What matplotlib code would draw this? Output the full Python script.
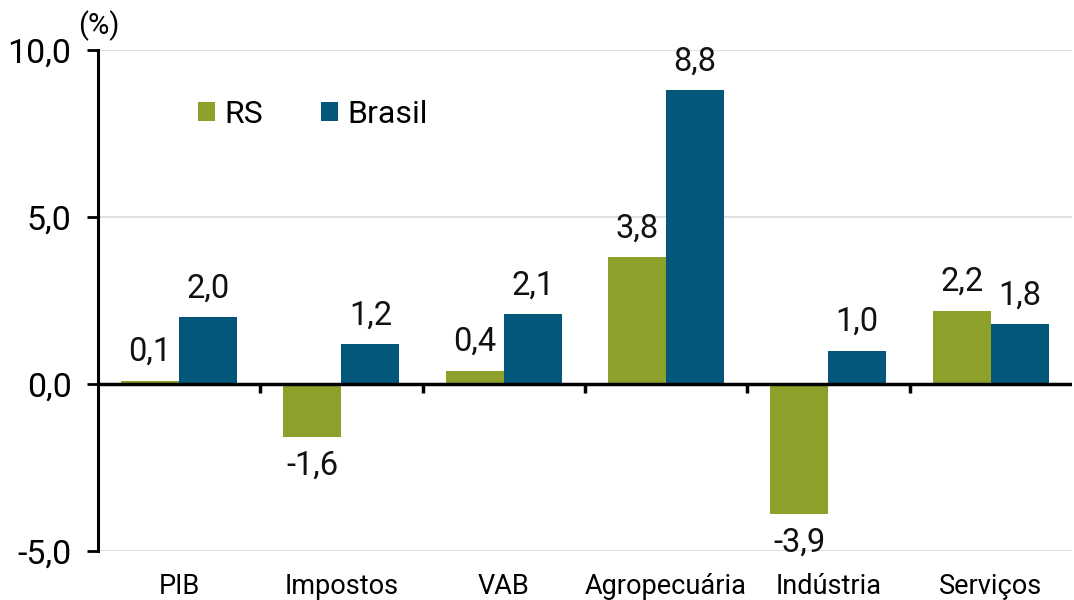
import matplotlib
matplotlib.use("Agg")
import matplotlib.pyplot as plt
import numpy as np

plt.rcParams['font.family'] = ['Roboto', 'DejaVu Sans']

categories = ["PIB", "Impostos", "VAB", "Agropecuária", "Indústria", "Serviços"]
rs_values = [0.1, -1.6, 0.4, 3.8, -3.9, 2.2]
brasil_values = [2.0, 1.2, 2.1, 8.8, 1.0, 1.8]
series_names = ["RS", "Brasil"]
yticks = [-5.0, 0.0, 5.0, 10.0]

c_rs = "#8DA12A"
c_br = "#02577A"

fig = plt.figure(figsize=(10.74, 6.0), dpi=100)
ax = fig.add_axes([0.0912, 0.0817, 0.9068, 0.835])

x = np.arange(len(categories))
w = 0.357
b1 = ax.bar(x - w/2, rs_values, w, color=c_rs, label=series_names[0], zorder=3)
b2 = ax.bar(x + w/2, brasil_values, w, color=c_br, label=series_names[1], zorder=3)

def fmt(v):
    return f"{v:.1f}".replace(".", ",")

for bars, vals in ((b1, rs_values), (b2, brasil_values)):
    for rect, v in zip(bars, vals):
        cx = rect.get_x() + rect.get_width()/2
        if v >= 0:
            ax.annotate(fmt(v), (cx, v), xytext=(0, 9), textcoords="offset points",
                        ha="center", va="bottom", fontsize=23.5, color="#111111")
        else:
            ax.annotate(fmt(v), (cx, v), xytext=(0, -9), textcoords="offset points",
                        ha="center", va="top", fontsize=23.5, color="#111111")

ax.set_xlim(-0.5, len(categories) - 0.5)
ax.set_ylim(-5, 10)
ax.set_yticks(yticks)
ax.set_yticklabels([fmt(t) for t in yticks], fontsize=24.5)
ax.set_xticks(x)
ax.set_xticklabels(categories, fontsize=19.5)
ax.tick_params(axis='x', length=0, pad=16)
ax.tick_params(axis='y', length=8, width=2, direction='out', pad=11)

for yv in [5, 10, -5]:
    ax.axhline(yv, color="#d9d9d9", lw=1.2, zorder=1)
ax.axhline(0, color="black", lw=2.5, zorder=4)
ax.vlines(np.arange(len(categories) - 1) + 0.5, -0.27, 0, color="black", lw=2.5, zorder=4)

for s in ["top", "right", "bottom"]:
    ax.spines[s].set_visible(False)
ax.spines["left"].set_linewidth(2.2)

leg = ax.legend(loc="upper left", bbox_to_anchor=(0.1023, 0.901), ncol=2, frameon=False,
                fontsize=23, handlelength=0.53, handleheight=0.53, handletextpad=0.31,
                columnspacing=1.8, borderaxespad=0, borderpad=0)

fig.text(0.0917, 0.958, "(%)", fontsize=21, ha="center", va="center")

fig.savefig("out.png", dpi=100)
